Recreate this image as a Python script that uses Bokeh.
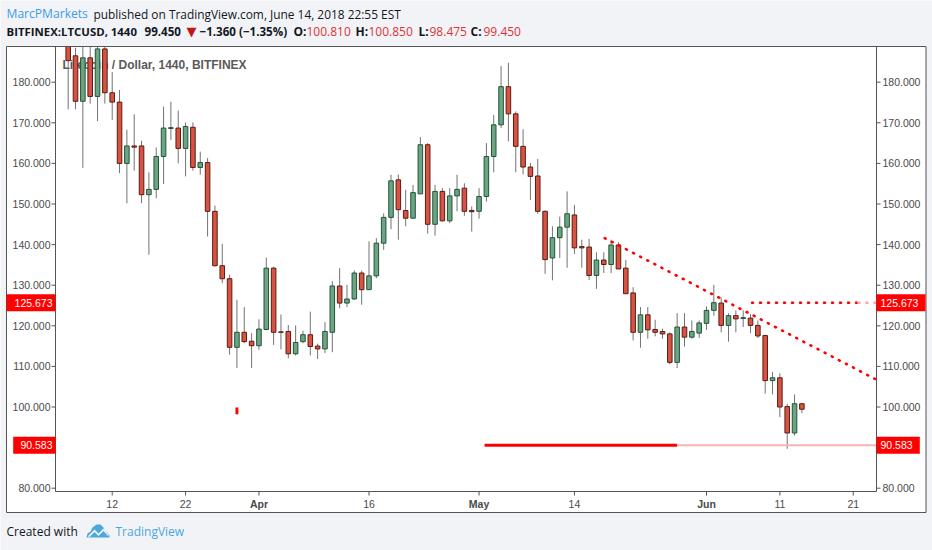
import pandas as pd
from bokeh.plotting import figure
from bokeh.models import Range1d, ColumnDataSource
from bokeh.core.properties import value
from bokeh.embed import file_html
from bokeh.resources import INLINE

# ---------------- data (values above the visible top are clipped there) ----------------
first_day = "2018-03-06"
last_day = "2018-06-14"
opens = [188.8, 186.5, 175.3, 186.0, 176.5, 188.2, 177.4, 175.1, 160.0, 164.3,
         164.3, 152.3, 153.6, 161.7, 168.6, 168.7, 163.7, 168.9, 159.0, 160.2,
         148.2, 134.8, 131.6, 114.7, 118.4, 116.2, 115.1, 119.1, 134.2, 118.5,
         118.6, 113.1, 116.1, 117.8, 115.0, 114.3, 118.4, 129.8, 125.6, 126.6,
         133.0, 128.9, 132.3, 140.35, 146.7, 155.95, 148.4, 146.5, 152.5, 164.6,
         145.0, 153.1, 145.85, 152.0, 153.9, 148.4, 148.2, 151.85, 161.7, 169.5,
         178.9, 172.2, 164.2, 159.1, 156.9, 148.2, 136.7, 141.7, 144.3, 147.3,
         139.5, 139.4, 132.4, 136.2, 135.1, 139.9, 134.2, 128.1, 118.4, 122.7,
         119.1, 118.6, 118.0, 111.0, 119.7, 117.2, 118.2, 120.6, 123.8, 125.6,
         120.1, 122.5, 121.8, 121.9, 120.1, 117.6, 106.5, 107.2, 100.1, 93.6,
         100.81]
highs = [188.8, 188.5, 188.8, 188.8, 188.8, 188.8, 182.5, 178.1, 168.3, 172.1,
         165.6, 157.8, 163.9, 174.0, 175.2, 173.0, 170.1, 170.1, 162.9, 161.3,
         149.6, 140.2, 132.6, 126.4, 124.6, 118.2, 121.6, 136.8, 134.6, 122.8,
         120.2, 120.1, 118.8, 123.5, 115.6, 120.9, 131.0, 134.2, 130.1, 133.6,
         133.6, 140.8, 141.6, 147.7, 157.2, 157.3, 153.5, 154.7, 166.5, 165.0,
         154.7, 153.9, 153.9, 157.2, 155.1, 149.4, 153.9, 165.0, 171.95, 184.0,
         184.8, 172.8, 168.4, 160.1, 161.1, 148.4, 144.5, 146.9, 153.1, 149.8,
         141.2, 141.4, 138.1, 138.1, 141.2, 140.6, 136.2, 129.5, 124.6, 124.6,
         121.5, 119.3, 118.4, 123.1, 123.1, 121.3, 121.3, 124.8, 130.1, 127.0,
         123.1, 123.8, 123.8, 122.9, 121.3, 117.8, 108.6, 108.3, 100.8, 103.1,
         100.85]
lows = [173.3, 173.3, 158.9, 174.7, 170.4, 174.7, 170.7, 157.6, 150.2, 158.2,
        150.2, 137.5, 151.4, 154.9, 165.8, 160.0, 156.8, 158.2, 157.2, 142.0,
        134.6, 130.5, 112.9, 109.6, 115.7, 109.6, 114.1, 118.9, 115.3, 114.2,
        112.0, 112.7, 115.7, 112.7, 111.8, 113.3, 113.5, 124.3, 124.6, 126.4,
        125.2, 128.9, 131.7, 138.7, 143.8, 141.2, 144.5, 146.5, 152.5, 142.7,
        142.2, 145.7, 145.3, 148.2, 147.1, 143.2, 146.4, 150.6, 157.8, 168.7,
        165.4, 157.8, 157.3, 151.0, 147.6, 132.8, 131.2, 136.7, 134.3, 137.7,
        134.3, 131.3, 129.1, 133.0, 133.0, 134.0, 127.9, 116.4, 114.6, 116.8,
        117.4, 116.8, 110.5, 109.6, 114.9, 116.8, 117.0, 119.0, 122.5, 118.4,
        116.1, 118.4, 119.7, 118.2, 117.0, 103.3, 103.1, 97.5, 89.7, 93.0,
        98.475]
closes = [185.3, 175.3, 186.0, 176.5, 188.2, 177.4, 175.1, 160.0, 164.3, 164.0,
          152.3, 153.6, 161.7, 168.7, 168.8, 163.7, 169.1, 159.0, 160.2, 148.2,
          134.8, 131.6, 114.7, 118.4, 116.1, 115.1, 119.2, 134.2, 118.4, 118.4,
          113.1, 115.9, 117.8, 114.9, 114.3, 118.6, 129.8, 125.6, 126.6, 133.0,
          128.9, 132.3, 140.35, 146.7, 155.7, 148.6, 146.5, 152.8, 164.6, 145.0,
          153.1, 145.85, 152.0, 153.6, 148.2, 148.1, 151.85, 161.7, 169.5, 178.9,
          172.2, 164.2, 159.1, 156.8, 148.2, 136.3, 141.7, 144.3, 147.6, 139.2,
          139.2, 132.4, 136.2, 135.1, 139.9, 134.0, 127.9, 118.4, 122.7, 119.0,
          118.4, 118.0, 111.0, 119.7, 117.2, 118.6, 120.7, 123.8, 125.7, 120.1,
          122.5, 121.7, 122.0, 120.1, 117.5, 106.5, 107.2, 100.0, 93.6, 100.81,
          99.45]

x_tick_dates = ["2018-03-12", "2018-03-22", "2018-04-01", "2018-04-16", "2018-05-01",
                "2018-05-14", "2018-06-01", "2018-06-11", "2018-06-21"]
x_tick_labels = ["12", "22", "Apr", "16", "May", "14", "Jun", "11", "21"]
month_labels = ["Apr", "May", "Jun"]
y_ticks = [80, 90, 100, 110, 120, 130, 140, 150, 160, 170, 180]

# drawings on the chart
support_level = 90.583
support_start = "2018-05-01 18:00"
support_end = "2018-05-28 00:00"
resist_level = 125.673
resist_start = "2018-06-07 05:00"
trend_start = ("2018-05-18 03:00", 141.6)
trend_end = ("2018-06-24 04:00", 106.73)
marker_day = "2018-03-29"
marker_low, marker_high = 98.2, 99.9

# ---------------- helpers ----------------
BASE = pd.Timestamp("2018-03-01")


def day(s):
    return (pd.Timestamp(s) - BASE) / pd.Timedelta(days=1)


# page pixel -> data coordinates (layout positions of decorations only)
def X(xp):
    return (xp - 31.0) / 7.337


def Y(yp):
    return 180.0 - (yp - 81.7) / 4.06


W, H = 932, 550
XL, XR, YT, YB = X(55), X(876), Y(46), Y(491)   # price pane

dates = pd.date_range(first_day, last_day, freq="D")
dx = [day(d) for d in dates]
up = [c >= o for o, c in zip(opens, closes)]
src = ColumnDataSource(dict(
    x=dx, open=opens, high=highs, low=lows, close=closes,
    top=[max(o, c) for o, c in zip(opens, closes)],
    bottom=[min(o, c) for o, c in zip(opens, closes)],
    fill=["#6ba583" if u else "#d75442" for u in up],
    edge=["#225437" if u else "#5b1a13" for u in up],
))

p = figure(width=W, height=H, output_backend="svg", toolbar_location=None,
           x_range=Range1d(X(0), X(W)), y_range=Range1d(Y(H), Y(0)),
           x_axis_type=None, y_axis_type=None, min_border=0)
p.outline_line_color = None
p.background_fill_color = "#f1f3f7"
p.border_fill_color = "#f1f3f7"

AXF = value("Liberation Sans")
AXS = value("10.5px")
AXC = "#4a4a4a"
FR = "#555555"

# chart panel
p.quad(left=[X(6)], right=[X(925.5)], top=[Y(46)], bottom=[Y(512)],
       fill_color="white", line_color=FR, line_width=1)

# series legend (behind candles)
p.text(x=[X(62)], y=[Y(64)], text=["Litecoin / Dollar, 1440, BITFINEX"],
       text_font=AXF, text_font_style="bold", text_font_size=value("12px"),
       text_color="#5a5a5a", text_baseline="middle", text_align="left")

# candles
p.segment(x0="x", y0="low", x1="x", y1="high", source=src, line_color="#737375", line_width=1)
p.vbar(x="x", width=0.62, top="top", bottom="bottom", source=src,
       fill_color="fill", line_color="edge", line_width=1)

# drawings
p.segment(x0=[day(support_start)], y0=[support_level], x1=[day(support_end)], y1=[support_level],
          line_color="#ff0000", line_width=3)
p.segment(x0=[day(support_end)], y0=[support_level], x1=[XR], y1=[support_level],
          line_color="#f9b4b4", line_width=2)
p.segment(x0=[day(trend_start[0])], y0=[trend_start[1]], x1=[day(trend_end[0])], y1=[trend_end[1]],
          line_color="#ff0000", line_width=2.6, line_dash="1 7", line_cap="round")
p.segment(x0=[day(resist_start)], y0=[resist_level], x1=[X(858)], y1=[resist_level],
          line_color="#ff0000", line_width=2.6, line_dash="1 7", line_cap="round")
p.segment(x0=[X(858)], y0=[resist_level], x1=[XR], y1=[resist_level],
          line_color="#f7a8a8", line_width=2.6, line_dash="1 7", line_cap="round")
p.vbar(x=[day(marker_day)], width=0.4, top=[marker_high], bottom=[marker_low],
       fill_color="#ff0000", line_color=None)

# pane border
p.quad(left=[XL], right=[XR], top=[YT], bottom=[YB], fill_color=None, line_color=FR, line_width=1)

# price scales (left and right) from the tick list
tick_len = 4 / 7.337
p.segment(x0=[XL - tick_len] * len(y_ticks), x1=[XL] * len(y_ticks), y0=y_ticks, y1=y_ticks,
          line_color=FR, line_width=1)
p.segment(x0=[XR] * len(y_ticks), x1=[XR + tick_len] * len(y_ticks), y0=y_ticks, y1=y_ticks,
          line_color=FR, line_width=1)
ylab = [f"{t:.3f}" for t in y_ticks]
p.text(x=[X(50)] * len(y_ticks), y=y_ticks, text=ylab, text_font=AXF, text_font_size=AXS,
       text_color=AXC, text_align="right", text_baseline="middle")
p.text(x=[X(882)] * len(y_ticks), y=y_ticks, text=ylab, text_font=AXF, text_font_size=AXS,
       text_color=AXC, text_align="left", text_baseline="middle")

# time scale
tick_pos = [day(d) for d in x_tick_dates]
p.segment(x0=tick_pos, x1=tick_pos, y0=[YB] * len(tick_pos), y1=[Y(495)] * len(tick_pos),
          line_color=FR, line_width=1)
day_pos = [t for t, l in zip(tick_pos, x_tick_labels) if l not in month_labels]
day_txt = [l for l in x_tick_labels if l not in month_labels]
mon_pos = [t for t, l in zip(tick_pos, x_tick_labels) if l in month_labels]
mon_txt = [l for l in x_tick_labels if l in month_labels]
p.text(x=day_pos, y=[Y(503)] * len(day_pos), text=day_txt, text_font=AXF, text_font_size=AXS,
       text_color=AXC, text_align="center", text_baseline="middle")
p.text(x=mon_pos, y=[Y(503)] * len(mon_pos), text=mon_txt, text_font=AXF, text_font_size=AXS,
       text_font_style="bold", text_color=AXC, text_align="center", text_baseline="middle")

# price boxes on both scales
half = 8.5 / 4.06
levels = [resist_level, support_level]
ltxt = ["125.673", "90.583"]
p.quad(left=[X(6), X(12.7)], right=[XL, XL], top=[v + half for v in levels],
       bottom=[v - half for v in levels], fill_color="#ff0000", line_color=None)
p.quad(left=[XR, XR], right=[X(925), X(919.3)], top=[v + half for v in levels],
       bottom=[v - half for v in levels], fill_color="#ff0000", line_color=None)
p.text(x=[X(52), X(52)], y=levels, text=ltxt, text_font=AXF, text_font_size=AXS,
       text_color="white", text_align="right", text_baseline="middle")
p.text(x=[X(880), X(880)], y=levels, text=ltxt, text_font=AXF, text_font_size=AXS,
       text_color="white", text_align="left", text_baseline="middle")

# header
HF = value("Open Sans")


def htext(xp, yp, txt, col, sty="normal", size="12px", font=HF):
    p.text(x=[X(xp)], y=[Y(yp)], text=[txt], text_color=col, text_font=font,
           text_font_style=sty, text_font_size=value(size), text_baseline="middle",
           text_align="left")


htext(6, 13, "MarcPMarkets", "#3d9be9", size="12.1px")
htext(93, 13, "published on TradingView.com, June 14, 2018 22:55 EST", "#131722", size="11.9px")
DK, RD = "#131722", "#dd3333"
htext(6, 31, "BITFINEX:LTCUSD, 1440", DK, "bold", "11.4px")
htext(144, 31, "99.450", DK, "bold", "11.6px")
htext(186, 31, "\u25bc", "#c01818", "normal", "13px", value("DejaVu Sans"))
htext(199, 31, "\u22121.360 (\u22121.35%)", DK, "bold", "11.6px")
htext(293, 31, "O:", DK, "bold")
htext(306, 31, "100.810", RD)
htext(355, 31, "H:", DK, "bold")
htext(368, 31, "100.850", RD)
htext(418, 31, "L:", DK, "bold")
htext(429, 31, "98.475", RD)
htext(470, 31, "C:", DK, "bold")
htext(483, 31, "99.450", RD)

# footer
htext(6, 531, "Created with", "#131722", size="12px")
htext(115, 531, "TradingView", "#4aa8dc", size="12px")
cloud = [(0, 14), (1, 10), (4, 8), (6, 4), (10, 1), (14, 1), (17, 4), (18, 7), (21, 9), (23, 12), (23, 14)]
p.patch(x=[X(86 + a) for a, b in cloud], y=[Y(523 + b) for a, b in cloud],
        fill_color="#4aa8dc", line_color=None)
zig = [(2, 12), (8, 6), (12, 10), (17, 5), (22, 11), (22, 13), (17, 7.5), (12, 12.5), (8, 8.5), (2, 14.5)]
p.patch(x=[X(86 + a) for a, b in zig], y=[Y(523 + b) for a, b in zig],
        fill_color="#f1f3f7", line_color=None)

open("out.html", "w").write(file_html(p, INLINE))
